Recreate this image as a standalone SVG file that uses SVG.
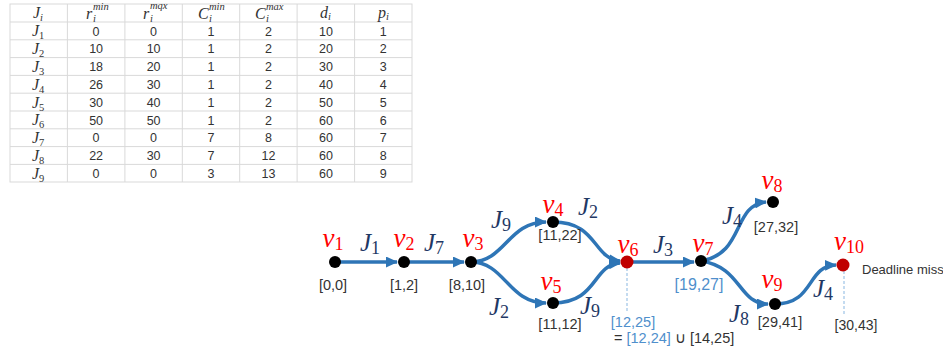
<svg xmlns="http://www.w3.org/2000/svg" width="943" height="354" viewBox="0 0 943 354">
<defs>
<marker id="ah" markerUnits="userSpaceOnUse" markerWidth="12" markerHeight="11" viewBox="0 0 12 11" refX="11" refY="5.5" orient="auto">
<path d="M0,0 L12,5.5 L0,11 Z" fill="#2E75B6"/>
</marker>
<style>
.grid{stroke:#D9D9D9;stroke-width:1;fill:none}
.tn{font-family:"Liberation Sans",Arial,sans-serif;font-size:12.5px;fill:#333;text-anchor:middle}
.th{font-family:"Liberation Serif","Times New Roman",serif;font-style:italic;font-size:16px;fill:#333}
.ts{font-family:"Liberation Serif","Times New Roman",serif;font-style:italic;font-size:10.5px;fill:#333}
.e{fill:none;stroke:#2E75B6;stroke-width:3.5;marker-end:url(#ah)}
.dot{fill:#000}
.red{fill:#C00000}
.v{font-family:"Liberation Serif","Times New Roman",serif;font-style:italic;font-size:27px;fill:#FF0000;text-anchor:middle}
.j{font-family:"Liberation Serif","Times New Roman",serif;font-style:italic;font-size:25px;fill:#1F3864;text-anchor:middle}
.sb{font-style:normal;font-size:18px}
.iv{font-family:"Liberation Sans",Arial,sans-serif;font-size:14.5px;fill:#333;text-anchor:middle}
.ivs{font-family:"Liberation Sans",Arial,sans-serif;font-size:14.5px;fill:#333}
.blue{fill:#4F8FCC}
.dash{stroke:#9DC3E6;stroke-width:1.2;stroke-dasharray:3,2;fill:none}
.note{font-family:"Liberation Sans",Arial,sans-serif;font-size:13px;fill:#333}
</style>
</defs>
<g id="table">
<rect x="10" y="4" width="402" height="178" fill="#fff" class="grid"/>
<path class="grid" d="M10,22H412M10,39.8H412M10,57.6H412M10,75.4H412M10,93.2H412M10,111H412M10,128.8H412M10,146.6H412M10,164.4H412M67.4,4V182M124.9,4V182M182.3,4V182M239.7,4V182M297.1,4V182M354.6,4V182"/>
<text class="th" x="33" y="18">J<tspan class="ts" dy="3">i</tspan></text>
<text class="th" x="86" y="19">r</text><text class="ts" x="93" y="10">min</text><text class="ts" x="93" y="21.5">i</text>
<text class="th" x="143" y="19">r</text><text class="ts" x="150" y="8.5">mqx</text><text class="ts" x="150" y="21.5">i</text>
<text class="th" x="198" y="19">C</text><text class="ts" x="209" y="10">min</text><text class="ts" x="209" y="21.5">i</text>
<text class="th" x="255" y="19">C</text><text class="ts" x="266" y="10">max</text><text class="ts" x="266" y="21.5">i</text>
<text class="th" x="320" y="18">d<tspan class="ts" dy="2">i</tspan></text>
<text class="th" x="378" y="18">p<tspan class="ts" dy="2">i</tspan></text>
<g id="rows">
<text class="th" x="32" y="36">J<tspan class="ts" dy="3" style="font-style:normal">1</tspan></text>
<text class="th" x="32" y="54">J<tspan class="ts" dy="3" style="font-style:normal">2</tspan></text>
<text class="th" x="32" y="72">J<tspan class="ts" dy="3" style="font-style:normal">3</tspan></text>
<text class="th" x="32" y="89.5">J<tspan class="ts" dy="3" style="font-style:normal">4</tspan></text>
<text class="th" x="32" y="107.5">J<tspan class="ts" dy="3" style="font-style:normal">5</tspan></text>
<text class="th" x="32" y="125">J<tspan class="ts" dy="3" style="font-style:normal">6</tspan></text>
<text class="th" x="32" y="143">J<tspan class="ts" dy="3" style="font-style:normal">7</tspan></text>
<text class="th" x="32" y="161">J<tspan class="ts" dy="3" style="font-style:normal">8</tspan></text>
<text class="th" x="32" y="178.5">J<tspan class="ts" dy="3" style="font-style:normal">9</tspan></text>
</g>
<g class="tn">
<text x="96.1" y="35.5">0</text><text x="153.6" y="35.5">0</text><text x="211" y="35.5">1</text><text x="268.4" y="35.5">2</text><text x="325.9" y="35.5">10</text><text x="383.3" y="35.5">1</text>
<text x="96.1" y="53.3">10</text><text x="153.6" y="53.3">10</text><text x="211" y="53.3">1</text><text x="268.4" y="53.3">2</text><text x="325.9" y="53.3">20</text><text x="383.3" y="53.3">2</text>
<text x="96.1" y="71.1">18</text><text x="153.6" y="71.1">20</text><text x="211" y="71.1">1</text><text x="268.4" y="71.1">2</text><text x="325.9" y="71.1">30</text><text x="383.3" y="71.1">3</text>
<text x="96.1" y="88.9">26</text><text x="153.6" y="88.9">30</text><text x="211" y="88.9">1</text><text x="268.4" y="88.9">2</text><text x="325.9" y="88.9">40</text><text x="383.3" y="88.9">4</text>
<text x="96.1" y="106.7">30</text><text x="153.6" y="106.7">40</text><text x="211" y="106.7">1</text><text x="268.4" y="106.7">2</text><text x="325.9" y="106.7">50</text><text x="383.3" y="106.7">5</text>
<text x="96.1" y="124.5">50</text><text x="153.6" y="124.5">50</text><text x="211" y="124.5">1</text><text x="268.4" y="124.5">2</text><text x="325.9" y="124.5">60</text><text x="383.3" y="124.5">6</text>
<text x="96.1" y="142.3">0</text><text x="153.6" y="142.3">0</text><text x="211" y="142.3">7</text><text x="268.4" y="142.3">8</text><text x="325.9" y="142.3">60</text><text x="383.3" y="142.3">7</text>
<text x="96.1" y="160.1">22</text><text x="153.6" y="160.1">30</text><text x="211" y="160.1">7</text><text x="268.4" y="160.1">12</text><text x="325.9" y="160.1">60</text><text x="383.3" y="160.1">8</text>
<text x="96.1" y="177.9">0</text><text x="153.6" y="177.9">0</text><text x="211" y="177.9">3</text><text x="268.4" y="177.9">13</text><text x="325.9" y="177.9">60</text><text x="383.3" y="177.9">9</text>
</g>
</g>
<g id="connectors">
<path class="e" d="M335,262 L397,262"/>
<path class="e" d="M404,262 L464,262"/>
<path class="e" d="M471,262 C505,262 508,222 546,222"/>
<path class="e" d="M471,262 C505,262 508,303 546,303"/>
<path class="e" d="M553,222 C598,222 592,258 620,261"/>
<path class="e" d="M553,303 C598,303 592,265 620,263"/>
<path class="e" d="M627,262 L694,262"/>
<path class="e" d="M701,261 C745,254 732,205 766,202"/>
<path class="e" d="M701,261 C742,267 738,304 768,304"/>
<path class="e" d="M775,304 C815,304 806,266 836,265"/>
<path class="dash" d="M627,268 V313"/>
<path class="dash" d="M844,271 V314"/>
</g>
<g id="v1"><circle class="dot" cx="335" cy="262" r="6"/><text class="v" x="333" y="247">v<tspan class="sb" dy="3">1</tspan></text><text class="iv" x="333" y="290">[0,0]</text></g>
<g id="v2"><circle class="dot" cx="404" cy="262" r="6"/><text class="v" x="404" y="247">v<tspan class="sb" dy="3">2</tspan></text><text class="iv" x="404" y="290">[1,2]</text></g>
<g id="v3"><circle class="dot" cx="471" cy="262" r="6"/><text class="v" x="473" y="247">v<tspan class="sb" dy="3">3</tspan></text><text class="iv" x="467" y="290">[8,10]</text></g>
<g id="v4"><circle class="dot" cx="553" cy="222" r="6"/><text class="v" x="553" y="213">v<tspan class="sb" dy="3">4</tspan></text><text class="iv" x="560" y="240">[11,22]</text></g>
<g id="v5"><circle class="dot" cx="553" cy="303" r="6"/><text class="v" x="551" y="290">v<tspan class="sb" dy="3">5</tspan></text><text class="iv" x="560" y="329">[11,12]</text></g>
<g id="v6"><circle class="red" cx="627" cy="262" r="6.5"/><text class="v" x="628" y="253">v<tspan class="sb" dy="3">6</tspan></text><text class="iv blue" x="633" y="327">[12,25]</text><text class="ivs" x="614" y="343">= <tspan class="blue">[12,24]</tspan> ∪ [14,25]</text></g>
<g id="v7"><circle class="dot" cx="701" cy="261" r="6"/><text class="v" x="703" y="252">v<tspan class="sb" dy="3">7</tspan></text><text class="iv blue" x="699" y="290" style="font-size:16px">[19,27]</text></g>
<g id="v8"><circle class="dot" cx="773" cy="202" r="6"/><text class="v" x="772" y="189">v<tspan class="sb" dy="3">8</tspan></text><text class="iv" x="776" y="232">[27,32]</text></g>
<g id="v9"><circle class="dot" cx="775" cy="304" r="6"/><text class="v" x="772" y="288">v<tspan class="sb" dy="3">9</tspan></text><text class="iv" x="780" y="327">[29,41]</text></g>
<g id="v10"><circle class="red" cx="843" cy="265" r="6.5"/><text class="v" x="849" y="250">v<tspan class="sb" dy="3">10</tspan></text><text class="note" x="862" y="274">Deadline miss</text><text class="iv" x="856" y="330" style="font-size:14px">[30,43]</text></g>
<g id="edge-labels">
<text class="j" x="370" y="251">J<tspan class="sb" dy="3">1</tspan></text>
<text class="j" x="434" y="251">J<tspan class="sb" dy="3">7</tspan></text>
<text class="j" x="501" y="228">J<tspan class="sb" dy="3">9</tspan></text>
<text class="j" x="499" y="315">J<tspan class="sb" dy="3">2</tspan></text>
<text class="j" x="588" y="215">J<tspan class="sb" dy="3">2</tspan></text>
<text class="j" x="590" y="314">J<tspan class="sb" dy="3">9</tspan></text>
<text class="j" x="663" y="253">J<tspan class="sb" dy="3">3</tspan></text>
<text class="j" x="732" y="224">J<tspan class="sb" dy="3">4</tspan></text>
<text class="j" x="739" y="322">J<tspan class="sb" dy="3">8</tspan></text>
<text class="j" x="823" y="297">J<tspan class="sb" dy="3">4</tspan></text>
</g>
</svg>
